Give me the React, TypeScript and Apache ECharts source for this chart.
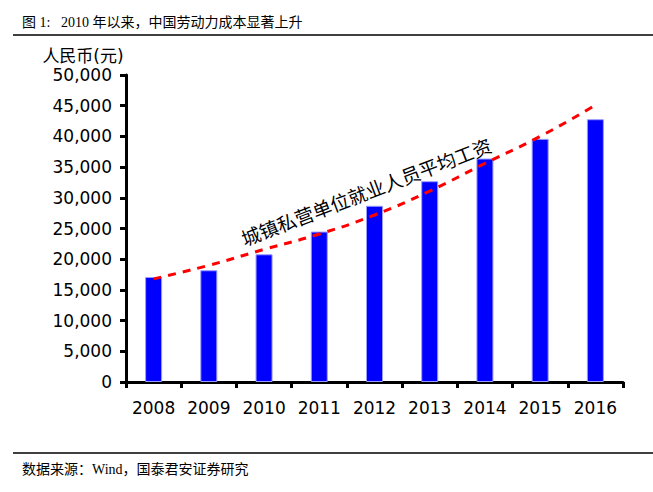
import React, { useEffect, useRef } from "react";
import * as echarts from "echarts";

const years = ["2008", "2009", "2010", "2011", "2012", "2013", "2014", "2015", "2016"];
const wages = [17100, 18200, 20800, 24500, 28700, 32700, 36400, 39600, 42800];
const trend = [16800, 19000, 21600, 24100, 27200, 31100, 35600, 40000, 45100];
const yTicks = { min: 0, max: 50000, interval: 5000 };
const titleText = "图 1:   2010 年以来，中国劳动力成本显著上升";
const sourceText = "数据来源：Wind，国泰君安证券研究";
const unitText = "人民币(元)";
const annotation = "城镇私营单位就业人员平均工资";

export default function App() {
  const ref = useRef<HTMLDivElement>(null);
  useEffect(() => {
    if (!ref.current) return;
    const chart = echarts.init(ref.current, null, { renderer: "svg" });
    const sans = "DejaVu Sans, Noto Sans CJK SC, sans-serif";
    const serif = "Liberation Serif, Noto Sans CJK SC, serif";
    chart.setOption({
      animation: false,
      backgroundColor: "#ffffff",
      grid: { left: 126, right: 30, top: 75, bottom: 110, containLabel: false },
      xAxis: {
        type: "category",
        data: years,
        boundaryGap: true,
        axisLine: { lineStyle: { color: "#000", width: 3 } },
        axisTick: { show: true, interval: 0, length: 6, lineStyle: { color: "#000", width: 3 } },
        axisLabel: { color: "#000", fontSize: 17, fontFamily: sans, margin: 17, interval: 0 },
      },
      yAxis: {
        type: "value",
        min: yTicks.min,
        max: yTicks.max,
        interval: yTicks.interval,
        splitLine: { show: false },
        axisLine: { show: true, lineStyle: { color: "#000", width: 3 } },
        axisTick: { show: true, length: 6, lineStyle: { color: "#000", width: 3 } },
        axisLabel: {
          color: "#000",
          fontSize: 17,
          fontFamily: sans,
          margin: 14,
          formatter: (v: number) => v.toLocaleString("en-US"),
        },
      },
      series: [
        {
          type: "bar",
          data: wages,
          barWidth: 17,
          itemStyle: { color: "#0000ff", borderColor: "#9a9aff", borderWidth: 1 },
        },
        {
          type: "line",
          data: trend,
          smooth: true,
          showSymbol: false,
          symbol: "none",
          lineStyle: { color: "#ff0000", width: 3, type: [8, 7] },
          z: 5,
        },
      ],
      graphic: [
        {
          type: "text",
          left: 22,
          top: 15,
          style: { text: titleText, fontSize: 14, fontFamily: serif, fill: "#000" },
        },
        {
          type: "line",
          shape: { x1: 13, y1: 35, x2: 653, y2: 35 },
          style: { stroke: "#000", lineWidth: 1.5 },
        },
        {
          type: "text",
          x: 83,
          y: 56,
          style: {
            text: unitText,
            fontSize: 17,
            fontFamily: sans,
            fill: "#000",
            align: "center",
            verticalAlign: "middle",
          },
        },
        {
          type: "text",
          x: 366,
          y: 191,
          rotation: (21 * Math.PI) / 180,
          style: {
            text: annotation,
            fontSize: 19,
            fontFamily: "Noto Sans CJK SC, sans-serif",
            fill: "#000",
            align: "center",
            verticalAlign: "middle",
          },
          z: 10,
        },
        {
          type: "line",
          shape: { x1: 13, y1: 453, x2: 653, y2: 453 },
          style: { stroke: "#000", lineWidth: 1.5 },
        },
        {
          type: "text",
          left: 22,
          top: 462,
          style: { text: sourceText, fontSize: 14, fontFamily: serif, fill: "#000" },
        },
      ],
    });
    return () => chart.dispose();
  }, []);
  return (
    <div
      ref={ref}
      style={{ position: "fixed", left: 0, top: 0, width: 653, height: 492 }}
    />
  );
}
